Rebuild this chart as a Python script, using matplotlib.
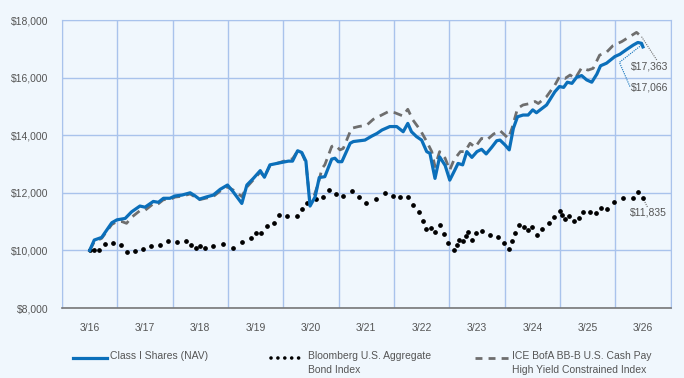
import matplotlib
matplotlib.use("Agg")
import matplotlib.pyplot as plt
from matplotlib.lines import Line2D
from matplotlib.ticker import MultipleLocator, FixedLocator

plt.rcParams['font.family'] = ['Liberation Sans', 'DejaVu Sans']

# values (month 0 = 3/16, month 120 = 3/26)
nav_m = [0, 1.0, 2.6, 4.8, 5.9, 7.7, 9.1, 10.9, 12.0, 13.8, 14.9, 16.0, 17.4, 18.5,
         20.0, 21.8, 22.8, 23.8, 25.4, 26.8, 28.3, 29.9, 31.1, 33.0, 34.1, 35.5,
         37.0, 37.9, 39.1, 40.6, 43.1, 44.0, 45.1, 46.0, 46.9, 47.8, 48.9, 49.8,
         51.0, 52.5, 53.2, 53.9, 54.7, 56.5, 57.2, 59.7, 61.2, 62.3, 63.4, 65.1,
         66.6, 68.0, 69.0, 69.8, 70.9, 72.0, 73.1, 73.8, 74.9, 75.9, 77.1, 78.1,
         79.2, 79.9, 80.9, 81.8, 82.9, 84.0, 85.0, 86.0, 87.2, 88.3, 89.0, 90.1,
         91.0, 91.9, 92.8, 94.0, 95.1, 96.1, 96.9, 99.1, 100.9, 101.9, 102.8,
         103.6, 104.6, 105.6, 106.7, 107.8, 108.9, 110.0, 110.8, 112.1, 113.9,
         115.0, 116.5, 117.9, 118.9, 119.7, 120]
nav_v = [10000, 10360, 10450, 10960, 11060, 11110, 11340, 11540, 11500, 11700, 11670,
         11810, 11810, 11890, 11920, 12000, 11900, 11780, 11860, 11920, 12120, 12270,
         12040, 11630, 12270, 12500, 12770, 12540, 12970, 13020, 13100, 13100, 13460,
         13400, 13100, 11540, 11860, 12530, 12560, 13170, 13200, 13080, 13080, 13720,
         13780, 13830, 13970, 14060, 14180, 14300, 14300, 14120, 14410, 14120, 13950,
         13830, 13430, 13370, 12500, 13250, 12950, 12440, 12790, 13020, 12970, 13430,
         13230, 13430, 13510, 13350, 13580, 13810, 13830, 13660, 13490, 14240, 14640,
         14700, 14700, 14880, 14780, 15050, 15510, 15690, 15660, 15840, 15800, 16010,
         16070, 15920, 15840, 16120, 16410, 16500, 16730, 16810, 16980, 17130, 17220,
         17190, 17066]

ice_m = [0, 1.0, 2.6, 4.8, 5.9, 7.0, 8.0, 9.1, 10.9, 12.0, 13.8, 14.9, 16.0, 17.4,
         18.5, 20.0, 21.8, 23.8, 25.4, 26.8, 28.3, 29.9, 31.1, 33.0, 34.1, 35.5,
         37.0, 37.9, 39.1, 40.6, 43.1, 44.0, 45.1, 46.0, 46.9, 47.8, 48.6, 49.6,
         50.4, 51.0, 52.5, 53.2, 54.3, 55.0, 56.8, 58.3, 60.1, 61.5, 62.6, 64.8,
         66.2, 67.9, 69.0, 70.1, 71.7, 73.1, 74.2, 74.9, 75.9, 77.1, 78.1, 79.0,
         80.4, 81.4, 82.5, 83.6, 85.0, 86.1, 87.6, 89.0, 90.8, 91.6, 92.8, 94.0,
         95.5, 96.6, 97.3, 99.1, 100.9, 101.9, 103.1, 104.2, 105.3, 106.7, 108.1,
         109.2, 110.6, 112.1, 113.5, 115.4, 116.8, 118.6, 119.7, 120]
ice_v = [10000, 10300, 10420, 10900, 11000, 11000, 10940, 11150, 11380, 11390, 11620,
         11620, 11760, 11770, 11850, 11880, 11960, 11760, 11820, 11870, 12060, 12200,
         12100, 11870, 12200, 12450, 12720, 12560, 12940, 13020, 13150, 13180, 13450,
         13380, 13050, 11650, 11860, 12330, 12850, 12970, 13610, 13660, 13490, 13540,
         14240, 14300, 14350, 14550, 14640, 14820, 14780, 14670, 14900, 14530, 14180,
         13780, 13430, 12910, 13430, 13200, 12790, 13140, 13430, 13430, 13720, 13580,
         13890, 13830, 14040, 14160, 13890, 14240, 14930, 15050, 15100, 15170, 15100,
         15340, 15740, 16030, 15970, 16090, 15970, 16340, 16260, 16320, 16780, 16880,
         17110, 17250, 17390, 17570, 17420, 17363]

bond_m = [0, 1.0, 2.0, 3.3, 5.1, 6.9, 8.0, 9.8, 11.6, 13.4, 15.2, 17.0, 18.9, 20.9,
          21.9, 23.0, 23.9, 25.0, 26.8, 28.9, 31.0, 33.0, 34.9, 36.1, 37.1, 38.4,
          40.0, 41.1, 42.9, 44.9, 46.0, 47.1, 49.1, 50.7, 52.0, 53.4, 55.0, 56.8,
          58.5, 59.9, 62.0, 64.0, 65.7, 67.3, 69.0, 70.1, 71.4, 72.2, 73.0, 74.0,
          75.0, 76.0, 76.9, 77.8, 79.0, 79.6, 80.1, 81.0, 81.6, 82.1, 83.0, 83.9,
          85.0, 86.8, 88.6, 89.9, 91.0, 91.7, 92.3, 93.1, 94.2, 95.1, 96.0, 97.0,
          98.2, 99.6, 100.7, 102.0, 102.5, 103.1, 103.9, 105.0, 106.1, 106.9, 108.5,
          109.9, 110.9, 112.1, 113.7, 115.7, 117.9, 118.9, 120]
bond_v = [10000, 10020, 10020, 10220, 10270, 10190, 9930, 9980, 10040, 10150, 10190,
          10330, 10280, 10330, 10190, 10070, 10160, 10070, 10150, 10210, 10070, 10300,
          10420, 10610, 10610, 10850, 10960, 11230, 11200, 11200, 11430, 11630, 11770,
          11860, 12080, 11970, 11900, 12050, 11860, 11650, 11770, 11980, 11900, 11850,
          11850, 11580, 11330, 11030, 10730, 10790, 10640, 10890, 10580, 10260, 10000,
          10190, 10360, 10330, 10500, 10650, 10360, 10590, 10680, 10530, 10480, 10250,
          10040, 10330, 10610, 10880, 10820, 10710, 10800, 10520, 10730, 10940, 11170,
          11370, 11230, 11080, 11200, 11020, 11140, 11320, 11350, 11290, 11460, 11440,
          11670, 11830, 11830, 12040, 11835]

tick_m = [0, 12, 24, 36, 48, 60, 72, 84, 96, 108, 120]
tick_labels = ['3/16', '3/17', '3/18', '3/19', '3/20', '3/21', '3/22', '3/23', '3/24', '3/25', '3/26']
names = ['Class I Shares (NAV)', 'Bloomberg U.S. Aggregate\nBond Index',
         'ICE BofA BB-B U.S. Cash Pay\nHigh Yield Constrained Index']

bg = '#F0F7FD'
grid_c = '#A9C3EC'
blue = '#0B6FBA'
gray = '#6E6E6E'
txt = '#555555'

fig = plt.figure(figsize=(6.84, 3.78), dpi=100, facecolor=bg)
ax = fig.add_axes([62/684, 70/378, 608.6/684, 288/378])
ax.set_facecolor(bg)

ax.plot(ice_m, ice_v, color=gray, lw=2.0, dashes=(3.2, 2.2), zorder=3)
ax.plot(bond_m, bond_v, ls='none', marker='o', ms=2.4, color='black', zorder=3)
ax.plot(nav_m, nav_v, color=blue, lw=2.3, zorder=4, solid_joinstyle='round')

ax.set_xlim(-6, 126)
ax.set_ylim(8000, 18000)
ax.yaxis.set_major_locator(MultipleLocator(2000))
ax.set_yticklabels([f'${int(v):,}' for v in ax.get_yticks()])
ax.set_xticks(tick_m)
ax.set_xticklabels(tick_labels)
ax.xaxis.set_minor_locator(FixedLocator([m - 6 for m in tick_m] + [126]))
ax.tick_params(axis='both', which='both', length=0, colors=txt, labelsize=7.5)
ax.tick_params(axis='y', pad=10)
ax.tick_params(axis='x', pad=11)
ax.grid(axis='y', which='major', color=grid_c, lw=1.0)
ax.grid(axis='x', which='minor', color=grid_c, lw=1.0)
ax.set_axisbelow(True)
for s in ['top', 'left', 'right']:
    ax.spines[s].set_color(grid_c)
ax.spines['bottom'].set_color('#777777')
ax.spines['bottom'].set_linewidth(1.2)

# end labels with leader lines
ax.plot([119.7, 123.0], [17420, 16610], color=gray, lw=0.8, ls=(0, (1, 1)), clip_on=False)
ax.plot([119.7, 114.9, 117.2], [17130, 16530, 15680], color=blue, lw=0.8, ls=(0, (1, 1)), clip_on=False)
ax.plot([120.2, 121.0], [11750, 11500], color=gray, lw=0.8, ls=(0, (1, 1)), clip_on=False)
ax.text(117.3, 16400, f'${ice_v[-1]:,}', color=txt, fontsize=7.5, va='center', ha='left')
ax.text(117.3, 15650, f'${nav_v[-1]:,}', color=txt, fontsize=7.5, va='center', ha='left')
ax.text(117.2, 11310, f'${bond_v[-1]:,}', color=txt, fontsize=7.5, va='center', ha='left')

# legend, handles lined up with the first text line
leg_x = [73, 271, 475]
handles = [Line2D([0, 1], [0, 0], color=blue, lw=2.3),
           Line2D([0, 1], [0, 0], ls=(0, (0.01, 1.9)), lw=2.6, color='black', dash_capstyle='round'),
           Line2D([0, 1], [0, 0], color=gray, lw=2.0, dashes=(2.5, 2.2))]
for x0, h, name in zip(leg_x, handles, names):
    y0 = 1 - 358/378
    h.set_xdata([x0/684, (x0 + 34)/684])
    h.set_ydata([y0, y0])
    h.set_transform(fig.transFigure)
    fig.add_artist(h)
    fig.text((x0 + 37)/684, y0 + 7/378, name, color=txt, fontsize=7.5, va='top', ha='left',
             linespacing=1.45)

fig.savefig('out.png', dpi=100, facecolor=bg)
